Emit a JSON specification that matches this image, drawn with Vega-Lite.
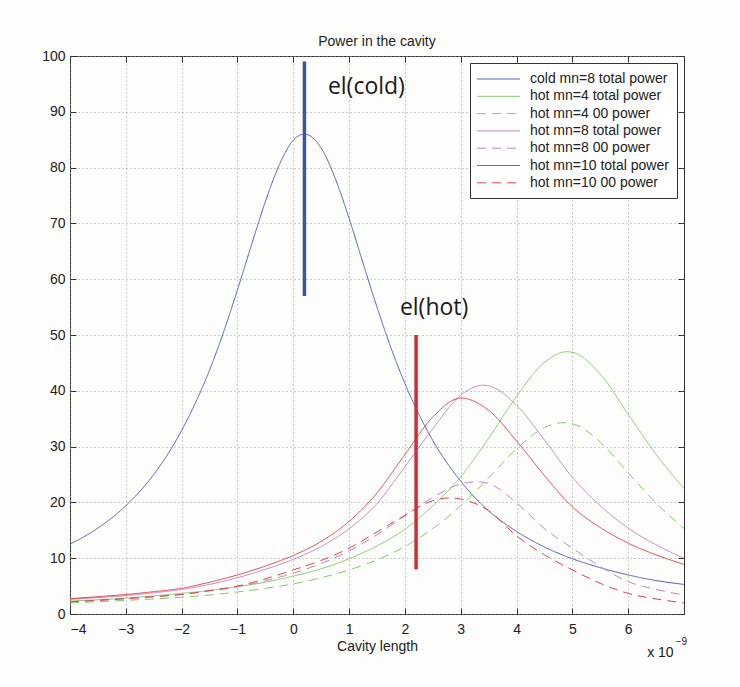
{
  "$schema": "https://vega.github.io/schema/vega-lite/v6.json",
  "width": 614,
  "height": 558,
  "autosize": "none",
  "padding": {"left": 70, "top": 56, "right": 56, "bottom": 73},
  "background": "#fdfdfc",
  "title": {"text": "Power in the cavity", "fontSize": 14, "font": "Liberation Sans", "fontWeight": "normal", "color": "#222", "offset": 0},
  "config": {
    "view": {"stroke": "#333", "strokeWidth": 1},
    "axis": {
      "domain": false, "tickSize": -6, "tickColor": "#333", "tickWidth": 1,
      "labelFont": "Liberation Sans", "labelFontSize": 14, "labelColor": "#222",
      "gridColor": "#999", "gridDash": [1, 3], "gridOpacity": 1, "gridWidth": 1,
      "titleFont": "Liberation Sans", "titleFontSize": 14, "titleFontWeight": "normal", "titleColor": "#222"
    },
    "legend": {
      "orient": "top-right", "offset": 7, "fillColor": "#ffffff", "strokeColor": "#333", "padding": 8,
      "labelFont": "Liberation Sans", "labelFontSize": 14, "labelColor": "#222",
      "symbolType": "M-3,0H3", "symbolSize": 205, "symbolStrokeWidth": 1, "symbolOffset": 12.5,
      "labelOffset": 23.5, "rowPadding": 2.3
    }
  },
  "datasets": {
    "curves": [
      {"series": "cold mn=8 total power", "x": -4, "y": 12.5},
      {"series": "cold mn=8 total power", "x": -3.5, "y": 15.4},
      {"series": "cold mn=8 total power", "x": -3, "y": 19.4},
      {"series": "cold mn=8 total power", "x": -2.5, "y": 25.0},
      {"series": "cold mn=8 total power", "x": -2, "y": 32.9},
      {"series": "cold mn=8 total power", "x": -1.5, "y": 43.7},
      {"series": "cold mn=8 total power", "x": -1.25, "y": 50.5},
      {"series": "cold mn=8 total power", "x": -1, "y": 58.1},
      {"series": "cold mn=8 total power", "x": -0.75, "y": 66.1},
      {"series": "cold mn=8 total power", "x": -0.5, "y": 73.9},
      {"series": "cold mn=8 total power", "x": -0.25, "y": 80.5},
      {"series": "cold mn=8 total power", "x": 0, "y": 84.9},
      {"series": "cold mn=8 total power", "x": 0.2, "y": 86.0},
      {"series": "cold mn=8 total power", "x": 0.5, "y": 83.5},
      {"series": "cold mn=8 total power", "x": 0.75, "y": 78.1},
      {"series": "cold mn=8 total power", "x": 1, "y": 70.9},
      {"series": "cold mn=8 total power", "x": 1.25, "y": 62.9},
      {"series": "cold mn=8 total power", "x": 1.5, "y": 55.0},
      {"series": "cold mn=8 total power", "x": 1.75, "y": 47.7},
      {"series": "cold mn=8 total power", "x": 2, "y": 41.3},
      {"series": "cold mn=8 total power", "x": 2.5, "y": 31.1},
      {"series": "cold mn=8 total power", "x": 3, "y": 23.8},
      {"series": "cold mn=8 total power", "x": 3.5, "y": 18.5},
      {"series": "cold mn=8 total power", "x": 4, "y": 14.8},
      {"series": "cold mn=8 total power", "x": 4.5, "y": 12.0},
      {"series": "cold mn=8 total power", "x": 5, "y": 9.9},
      {"series": "cold mn=8 total power", "x": 5.5, "y": 8.3},
      {"series": "cold mn=8 total power", "x": 6, "y": 7.0},
      {"series": "cold mn=8 total power", "x": 6.5, "y": 6.0},
      {"series": "cold mn=8 total power", "x": 7, "y": 5.3},

      {"series": "hot mn=4 total power", "x": -4, "y": 2.3},
      {"series": "hot mn=4 total power", "x": -3.5, "y": 2.55},
      {"series": "hot mn=4 total power", "x": -3, "y": 2.85},
      {"series": "hot mn=4 total power", "x": -2.5, "y": 3.25},
      {"series": "hot mn=4 total power", "x": -2, "y": 3.7},
      {"series": "hot mn=4 total power", "x": -1.5, "y": 4.2},
      {"series": "hot mn=4 total power", "x": -1, "y": 4.9},
      {"series": "hot mn=4 total power", "x": -0.5, "y": 5.7},
      {"series": "hot mn=4 total power", "x": 0, "y": 6.8},
      {"series": "hot mn=4 total power", "x": 0.5, "y": 8.1},
      {"series": "hot mn=4 total power", "x": 1, "y": 9.9},
      {"series": "hot mn=4 total power", "x": 1.5, "y": 12.2},
      {"series": "hot mn=4 total power", "x": 2, "y": 15.2},
      {"series": "hot mn=4 total power", "x": 2.5, "y": 19.4},
      {"series": "hot mn=4 total power", "x": 3, "y": 24.6},
      {"series": "hot mn=4 total power", "x": 3.5, "y": 31.5},
      {"series": "hot mn=4 total power", "x": 4, "y": 39.0},
      {"series": "hot mn=4 total power", "x": 4.5, "y": 45.1},
      {"series": "hot mn=4 total power", "x": 4.9, "y": 47.0},
      {"series": "hot mn=4 total power", "x": 5, "y": 46.9},
      {"series": "hot mn=4 total power", "x": 5.5, "y": 43.0},
      {"series": "hot mn=4 total power", "x": 6, "y": 35.8},
      {"series": "hot mn=4 total power", "x": 6.5, "y": 28.6},
      {"series": "hot mn=4 total power", "x": 7, "y": 22.5},

      {"series": "hot mn=4 00 power", "x": -4, "y": 2.0},
      {"series": "hot mn=4 00 power", "x": -3.5, "y": 2.2},
      {"series": "hot mn=4 00 power", "x": -3, "y": 2.45},
      {"series": "hot mn=4 00 power", "x": -2.5, "y": 2.7},
      {"series": "hot mn=4 00 power", "x": -2, "y": 3.0},
      {"series": "hot mn=4 00 power", "x": -1.5, "y": 3.4},
      {"series": "hot mn=4 00 power", "x": -1, "y": 3.95},
      {"series": "hot mn=4 00 power", "x": -0.5, "y": 4.6},
      {"series": "hot mn=4 00 power", "x": 0, "y": 5.4},
      {"series": "hot mn=4 00 power", "x": 0.5, "y": 6.5},
      {"series": "hot mn=4 00 power", "x": 1, "y": 7.9},
      {"series": "hot mn=4 00 power", "x": 1.5, "y": 9.7},
      {"series": "hot mn=4 00 power", "x": 2, "y": 12.1},
      {"series": "hot mn=4 00 power", "x": 2.5, "y": 15.3},
      {"series": "hot mn=4 00 power", "x": 3, "y": 19.4},
      {"series": "hot mn=4 00 power", "x": 3.5, "y": 24.4},
      {"series": "hot mn=4 00 power", "x": 4, "y": 29.6},
      {"series": "hot mn=4 00 power", "x": 4.5, "y": 33.4},
      {"series": "hot mn=4 00 power", "x": 4.84, "y": 34.3},
      {"series": "hot mn=4 00 power", "x": 5, "y": 34.1},
      {"series": "hot mn=4 00 power", "x": 5.5, "y": 30.8},
      {"series": "hot mn=4 00 power", "x": 6, "y": 25.3},
      {"series": "hot mn=4 00 power", "x": 6.5, "y": 19.9},
      {"series": "hot mn=4 00 power", "x": 7, "y": 15.3},

      {"series": "hot mn=8 total power", "x": -4, "y": 2.65},
      {"series": "hot mn=8 total power", "x": -3.5, "y": 2.95},
      {"series": "hot mn=8 total power", "x": -3, "y": 3.3},
      {"series": "hot mn=8 total power", "x": -2.5, "y": 3.8},
      {"series": "hot mn=8 total power", "x": -2, "y": 4.4},
      {"series": "hot mn=8 total power", "x": -1.5, "y": 5.3},
      {"series": "hot mn=8 total power", "x": -1, "y": 6.5},
      {"series": "hot mn=8 total power", "x": -0.5, "y": 8.0},
      {"series": "hot mn=8 total power", "x": 0, "y": 9.8},
      {"series": "hot mn=8 total power", "x": 0.5, "y": 12.1},
      {"series": "hot mn=8 total power", "x": 1, "y": 15.3},
      {"series": "hot mn=8 total power", "x": 1.5, "y": 19.8},
      {"series": "hot mn=8 total power", "x": 2, "y": 26.4},
      {"series": "hot mn=8 total power", "x": 2.5, "y": 33.2},
      {"series": "hot mn=8 total power", "x": 3, "y": 39.2},
      {"series": "hot mn=8 total power", "x": 3.4, "y": 41.0},
      {"series": "hot mn=8 total power", "x": 3.5, "y": 40.9},
      {"series": "hot mn=8 total power", "x": 4, "y": 37.4},
      {"series": "hot mn=8 total power", "x": 4.5, "y": 31.2},
      {"series": "hot mn=8 total power", "x": 5, "y": 24.5},
      {"series": "hot mn=8 total power", "x": 5.5, "y": 19.4},
      {"series": "hot mn=8 total power", "x": 6, "y": 15.4},
      {"series": "hot mn=8 total power", "x": 6.5, "y": 12.4},
      {"series": "hot mn=8 total power", "x": 7, "y": 10.0},

      {"series": "hot mn=8 00 power", "x": -4, "y": 2.2},
      {"series": "hot mn=8 00 power", "x": -3.5, "y": 2.45},
      {"series": "hot mn=8 00 power", "x": -3, "y": 2.75},
      {"series": "hot mn=8 00 power", "x": -2.5, "y": 3.1},
      {"series": "hot mn=8 00 power", "x": -2, "y": 3.5},
      {"series": "hot mn=8 00 power", "x": -1.5, "y": 4.15},
      {"series": "hot mn=8 00 power", "x": -1, "y": 4.9},
      {"series": "hot mn=8 00 power", "x": -0.5, "y": 5.95},
      {"series": "hot mn=8 00 power", "x": 0, "y": 7.3},
      {"series": "hot mn=8 00 power", "x": 0.5, "y": 9.05},
      {"series": "hot mn=8 00 power", "x": 1, "y": 11.3},
      {"series": "hot mn=8 00 power", "x": 1.5, "y": 14.2},
      {"series": "hot mn=8 00 power", "x": 2, "y": 17.6},
      {"series": "hot mn=8 00 power", "x": 2.5, "y": 20.9},
      {"series": "hot mn=8 00 power", "x": 3, "y": 23.3},
      {"series": "hot mn=8 00 power", "x": 3.3, "y": 23.7},
      {"series": "hot mn=8 00 power", "x": 3.5, "y": 23.4},
      {"series": "hot mn=8 00 power", "x": 4, "y": 19.9},
      {"series": "hot mn=8 00 power", "x": 4.5, "y": 15.3},
      {"series": "hot mn=8 00 power", "x": 5, "y": 11.8},
      {"series": "hot mn=8 00 power", "x": 5.5, "y": 8.5},
      {"series": "hot mn=8 00 power", "x": 6, "y": 5.8},
      {"series": "hot mn=8 00 power", "x": 6.5, "y": 4.4},
      {"series": "hot mn=8 00 power", "x": 7, "y": 3.4},

      {"series": "hot mn=10 total power", "x": -4, "y": 2.75},
      {"series": "hot mn=10 total power", "x": -3.5, "y": 3.1},
      {"series": "hot mn=10 total power", "x": -3, "y": 3.5},
      {"series": "hot mn=10 total power", "x": -2.5, "y": 4.0},
      {"series": "hot mn=10 total power", "x": -2, "y": 4.6},
      {"series": "hot mn=10 total power", "x": -1.5, "y": 5.7},
      {"series": "hot mn=10 total power", "x": -1, "y": 7.0},
      {"series": "hot mn=10 total power", "x": -0.5, "y": 8.6},
      {"series": "hot mn=10 total power", "x": 0, "y": 10.5},
      {"series": "hot mn=10 total power", "x": 0.5, "y": 13.0},
      {"series": "hot mn=10 total power", "x": 1, "y": 16.6},
      {"series": "hot mn=10 total power", "x": 1.5, "y": 21.7},
      {"series": "hot mn=10 total power", "x": 2, "y": 28.6},
      {"series": "hot mn=10 total power", "x": 2.5, "y": 35.3},
      {"series": "hot mn=10 total power", "x": 3, "y": 38.7},
      {"series": "hot mn=10 total power", "x": 3.5, "y": 36.5},
      {"series": "hot mn=10 total power", "x": 4, "y": 31.0},
      {"series": "hot mn=10 total power", "x": 4.5, "y": 24.8},
      {"series": "hot mn=10 total power", "x": 5, "y": 19.2},
      {"series": "hot mn=10 total power", "x": 5.5, "y": 15.5},
      {"series": "hot mn=10 total power", "x": 6, "y": 12.7},
      {"series": "hot mn=10 total power", "x": 6.5, "y": 10.6},
      {"series": "hot mn=10 total power", "x": 7, "y": 8.9},

      {"series": "hot mn=10 00 power", "x": -4, "y": 2.2},
      {"series": "hot mn=10 00 power", "x": -3.5, "y": 2.45},
      {"series": "hot mn=10 00 power", "x": -3, "y": 2.75},
      {"series": "hot mn=10 00 power", "x": -2.5, "y": 3.1},
      {"series": "hot mn=10 00 power", "x": -2, "y": 3.5},
      {"series": "hot mn=10 00 power", "x": -1.5, "y": 4.2},
      {"series": "hot mn=10 00 power", "x": -1, "y": 5.0},
      {"series": "hot mn=10 00 power", "x": -0.5, "y": 6.3},
      {"series": "hot mn=10 00 power", "x": 0, "y": 7.9},
      {"series": "hot mn=10 00 power", "x": 0.5, "y": 9.6},
      {"series": "hot mn=10 00 power", "x": 1, "y": 11.8},
      {"series": "hot mn=10 00 power", "x": 1.5, "y": 14.7},
      {"series": "hot mn=10 00 power", "x": 2, "y": 17.7},
      {"series": "hot mn=10 00 power", "x": 2.5, "y": 20.3},
      {"series": "hot mn=10 00 power", "x": 2.8, "y": 20.8},
      {"series": "hot mn=10 00 power", "x": 3, "y": 20.6},
      {"series": "hot mn=10 00 power", "x": 3.5, "y": 18.5},
      {"series": "hot mn=10 00 power", "x": 4, "y": 14.0},
      {"series": "hot mn=10 00 power", "x": 4.5, "y": 10.6},
      {"series": "hot mn=10 00 power", "x": 5, "y": 7.9},
      {"series": "hot mn=10 00 power", "x": 5.5, "y": 5.5},
      {"series": "hot mn=10 00 power", "x": 6, "y": 3.7},
      {"series": "hot mn=10 00 power", "x": 6.5, "y": 2.7},
      {"series": "hot mn=10 00 power", "x": 7, "y": 2.0}
    ],
    "bars": [
      {"name": "cold", "x": 0.2, "y1": 57, "y2": 99},
      {"name": "hot", "x": 2.2, "y1": 8, "y2": 50}
    ],
    "labels": [
      {"label": "el(cold)", "x": 0.62, "y": 93.2},
      {"label": "el(hot)", "x": 1.91, "y": 53.6}
    ],
    "exponent": [
      {"label": "x 10", "x": 6.34, "y": -7.7}
    ],
    "exponent2": [
      {"label": "−9", "x": 6.85, "y": -5.6}
    ]
  },
  "layer": [
    {
      "data": {"name": "curves"},
      "mark": {"type": "line", "strokeWidth": 1, "interpolate": "monotone"},
      "encoding": {
        "x": {"field": "x", "type": "quantitative",
              "scale": {"domain": [-4, 7], "nice": false, "zero": false},
              "axis": {"orient": "bottom", "values": [-4, -3, -2, -1, 0, 1, 2, 3, 4, 5, 6], "grid": true, "title": "Cavity length", "labelPadding": 14, "titlePadding": 3}},
        "y": {"field": "y", "type": "quantitative",
              "scale": {"domain": [0, 100], "nice": false, "zero": false},
              "axis": {"orient": "left", "values": [0, 10, 20, 30, 40, 50, 60, 70, 80, 90, 100], "grid": true, "title": null, "labelPadding": 11}},
        "color": {"field": "series", "type": "nominal",
                  "scale": {"domain": ["cold mn=8 total power", "hot mn=4 total power", "hot mn=4 00 power", "hot mn=8 total power", "hot mn=8 00 power", "hot mn=10 total power", "hot mn=10 00 power"],
                            "range": ["#4a64b4", "#84cc6c", "#84cc6c", "#c683c7", "#c683c7", "#ea3f4a", "#ea3f4a"]},
                  "legend": {"title": null}},
        "strokeDash": {"field": "series", "type": "nominal",
                  "scale": {"domain": ["cold mn=8 total power", "hot mn=4 total power", "hot mn=4 00 power", "hot mn=8 total power", "hot mn=8 00 power", "hot mn=10 total power", "hot mn=10 00 power"],
                            "range": [[1, 0], [1, 0], [9, 6], [1, 0], [9, 6], [1, 0], [9, 6]]},
                  "legend": {"title": null}}
      }
    },
    {
      "data": {"name": "bars"},
      "transform": [{"filter": "datum.name === 'cold'"}],
      "mark": {"type": "rule", "strokeWidth": 3.5, "color": "#3c56a5"},
      "encoding": {
        "x": {"field": "x", "type": "quantitative", "scale": {"domain": [-4, 7], "nice": false, "zero": false},
              "axis": {"orient": "top", "values": [-4, -3, -2, -1, 0, 1, 2, 3, 4, 5, 6], "labels": false, "grid": false, "title": null}},
        "y": {"field": "y1", "type": "quantitative", "scale": {"domain": [0, 100], "nice": false, "zero": false},
              "axis": {"orient": "right", "values": [0, 10, 20, 30, 40, 50, 60, 70, 80, 90, 100], "labels": false, "grid": false, "title": null}},
        "y2": {"field": "y2"}
      }
    },
    {
      "data": {"name": "bars"},
      "transform": [{"filter": "datum.name === 'hot'"}],
      "mark": {"type": "rule", "strokeWidth": 3.5, "color": "#d62a36"},
      "encoding": {
        "x": {"field": "x", "type": "quantitative", "scale": {"domain": [-4, 7], "nice": false, "zero": false}, "axis": null},
        "y": {"field": "y1", "type": "quantitative", "scale": {"domain": [0, 100], "nice": false, "zero": false}, "axis": null},
        "y2": {"field": "y2"}
      }
    },
    {
      "data": {"name": "labels"},
      "mark": {"type": "text", "align": "left", "baseline": "alphabetic", "font": "Open Sans", "fontSize": 23, "color": "#1a1a1a"},
      "encoding": {
        "x": {"field": "x", "type": "quantitative", "scale": {"domain": [-4, 7], "nice": false, "zero": false}, "axis": null},
        "y": {"field": "y", "type": "quantitative", "scale": {"domain": [0, 100], "nice": false, "zero": false}, "axis": null},
        "text": {"field": "label"}
      }
    },
    {
      "data": {"name": "exponent"},
      "mark": {"type": "text", "align": "left", "baseline": "alphabetic", "font": "Liberation Sans", "fontSize": 14, "color": "#222"},
      "encoding": {
        "x": {"field": "x", "type": "quantitative", "scale": {"domain": [-4, 7], "nice": false, "zero": false}, "axis": null},
        "y": {"field": "y", "type": "quantitative", "scale": {"domain": [0, 100], "nice": false, "zero": false}, "axis": null},
        "text": {"field": "label"}
      }
    },
    {
      "data": {"name": "exponent2"},
      "mark": {"type": "text", "align": "left", "baseline": "alphabetic", "font": "Liberation Sans", "fontSize": 10, "color": "#222"},
      "encoding": {
        "x": {"field": "x", "type": "quantitative", "scale": {"domain": [-4, 7], "nice": false, "zero": false}, "axis": null},
        "y": {"field": "y", "type": "quantitative", "scale": {"domain": [0, 100], "nice": false, "zero": false}, "axis": null},
        "text": {"field": "label"}
      }
    }
  ],
  "resolve": {"axis": {"x": "independent", "y": "independent"}}
}
